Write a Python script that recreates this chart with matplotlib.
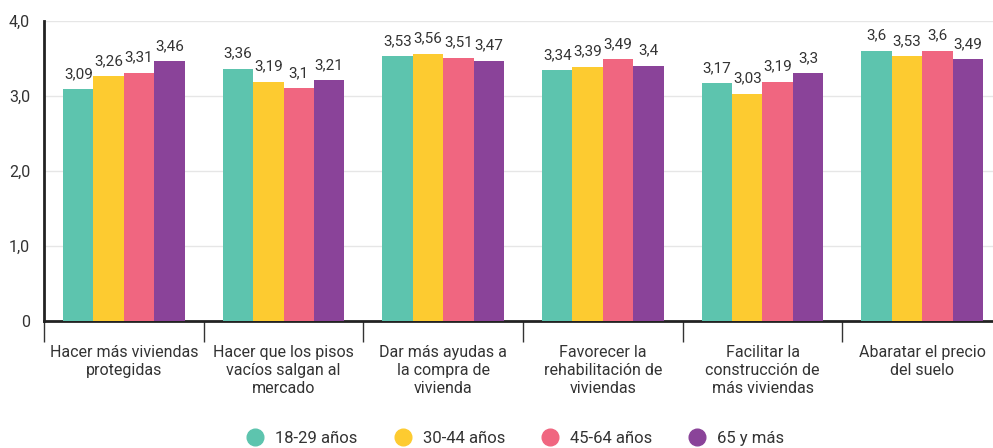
import numpy as np
import matplotlib.pyplot as plt
from matplotlib.lines import Line2D

plt.rcParams['font.family'] = ['Roboto', 'DejaVu Sans']

# Data
categories = ['Hacer más viviendas\nprotegidas',
              'Hacer que los pisos\nvacíos salgan al\nmercado',
              'Dar más ayudas a\nla compra de\nvivienda',
              'Favorecer la\nrehabilitación de\nviviendas',
              'Facilitar la\nconstrucción de\nmás viviendas',
              'Abaratar el precio\ndel suelo']
series_names = ['18-29 años', '30-44 años', '45-64 años', '65 y más']
v_18_29 = [3.09, 3.36, 3.53, 3.34, 3.17, 3.6]
v_30_44 = [3.26, 3.19, 3.56, 3.39, 3.03, 3.53]
v_45_64 = [3.31, 3.1, 3.51, 3.49, 3.19, 3.6]
v_65 = [3.46, 3.21, 3.47, 3.4, 3.3, 3.49]
yticks = [0, 1, 2, 3, 4]
ytick_labels = ['0', '1,0', '2,0', '3,0', '4,0']

colors = ['#5DC4AE', '#FDCB30', '#F06680', '#8A4399']
series = [v_18_29, v_30_44, v_45_64, v_65]

fig = plt.figure(figsize=(9.93, 4.48), dpi=100)
ax = fig.add_axes([44 / 993, 127 / 448, 958 / 993, 300 / 448])

x = np.arange(len(categories))
bw = 0.19
for i, (vals, c) in enumerate(zip(series, colors)):
    pos = x + (i - 1.5) * bw
    ax.bar(pos, vals, width=bw, color=c, zorder=3)
    for p, v in zip(pos, vals):
        txt = f'{v:g}'.replace('.', ',')
        ax.annotate(txt, (p, v), xytext=(0, 6), textcoords='offset points',
                    ha='center', va='bottom', fontsize=11, color='#333333')

ax.set_xlim(-0.5, len(categories) - 0.5)
ax.set_ylim(0, 4)
ax.set_yticks(yticks)
ax.set_yticklabels(ytick_labels, fontsize=11.5, color='#333333')
ax.tick_params(axis='y', length=0, pad=10)
ax.grid(axis='y', color='#e6e6e6', linewidth=1, zorder=0)

# category boundary ticks
ax.set_xticks(np.arange(len(categories) + 1) - 0.5)
ax.set_xticklabels([])
ax.tick_params(axis='x', length=15, width=1, color='#333333')
for xi, lab in zip(x, categories):
    ax.text(xi, -0.08, lab, transform=ax.get_xaxis_transform(), ha='center',
            va='top', fontsize=11.5, color='#333333', linespacing=1.25)

for s in ['top', 'right']:
    ax.spines[s].set_visible(False)
ax.spines['left'].set_linewidth(2)
ax.spines['bottom'].set_linewidth(2)
ax.spines['left'].set_color('#222222')
ax.spines['bottom'].set_color('#222222')

handles = [Line2D([], [], marker='o', linestyle='', markersize=12, color=c)
           for c in colors]
fig.legend(handles, series_names, loc='center', bbox_to_anchor=(0.515, 0.022),
           ncol=4, frameon=False, fontsize=12, handletextpad=0.2,
           columnspacing=1.7, labelcolor='#333333')

fig.savefig('out.png', dpi=100)
